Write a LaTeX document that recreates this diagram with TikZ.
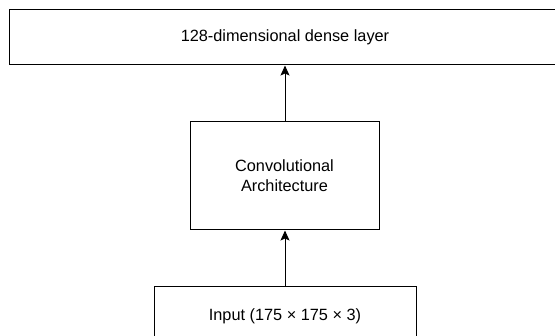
\documentclass[tikz,border=0pt]{standalone}
\usepackage{fontspec}
\setmainfont{Liberation Sans}
\usepackage{tikz}
\usetikzlibrary{arrows.meta}

\begin{document}
\begin{tikzpicture}[
    x=1pt, y=-1pt,
    box/.style={draw=black, line width=1pt, fill=white, align=center, inner sep=0pt,
                font=\fontsize{16.3}{20}\selectfont},
    flow/.style={draw=black, line width=1pt, -{Stealth[length=10pt, width=9pt, inset=2pt]}}
]
    \useasboundingbox (0,0) rectangle (555,336);

    % layers
    \node[box, minimum width=552, minimum height=55] (dense) at (285, 37.5) {128-dimensional dense layer};
    \node[box, minimum width=189, minimum height=108] (conv) at (284.5, 176) {Convolutional\\Architecture};
    \node[box, minimum width=262, minimum height=58] (input) at (285, 316) {Input (175 × 175 × 3)};

    % connections
    \draw[flow] (input.north -| 285,0) -- (conv.south -| 285,0);
    \draw[flow] (conv.north -| 285,0) -- (dense.south -| 285,0);
\end{tikzpicture}
\end{document}
